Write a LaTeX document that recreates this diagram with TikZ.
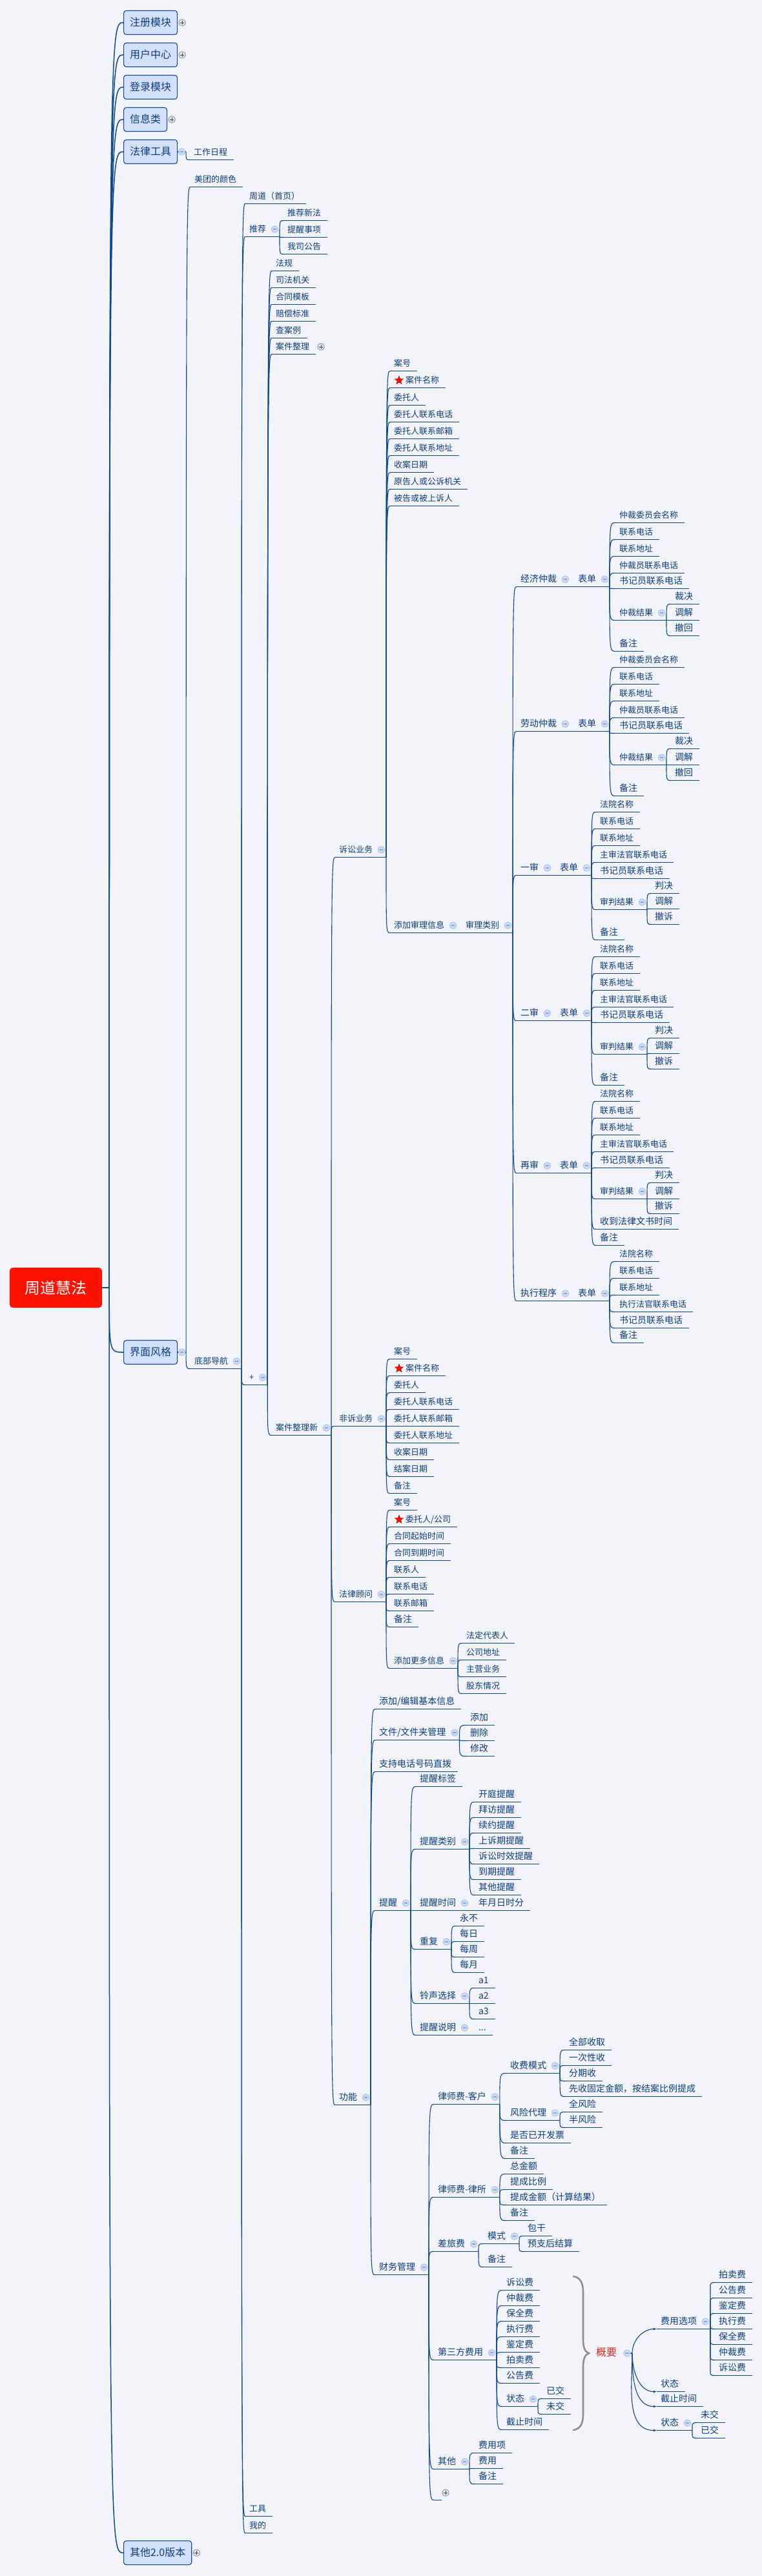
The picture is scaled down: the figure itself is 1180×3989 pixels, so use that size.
\documentclass[tikz,border=0pt]{standalone}
\usepackage{fontspec}
\setmainfont{Noto Sans CJK SC}
\usetikzlibrary{shapes.geometric,arrows.meta,calc}
\definecolor{bg}{HTML}{F2F4FA}
\definecolor{ink}{HTML}{0D3D7C}
\definecolor{lin}{HTML}{114889}
\definecolor{boxf}{HTML}{D2E0FB}
\definecolor{boxd}{HTML}{164A8E}
\definecolor{rootc}{HTML}{FF1100}
\definecolor{icf}{HTML}{D0DCF4}
\definecolor{icd}{HTML}{A6BDE6}
\definecolor{icmc}{HTML}{8AA6D6}
\definecolor{pcf}{HTML}{E0E5EE}
\definecolor{pcd}{HTML}{8591A6}
\definecolor{pcp}{HTML}{3A4658}
\definecolor{brc}{HTML}{8E8E8E}
\definecolor{gyc}{HTML}{D42A1E}
\newcommand\fz[1]{\fontsize{#1}{#1}\selectfont}
\tikzset{
 tp/.style={anchor=west, inner sep=0pt, outer sep=0pt, minimum height=23pt, text height=10.5pt, text depth=2.5pt, font=\fz{13}, text=ink},
 s14/.style={font=\fz{14}},
 ulc/.style={draw=lin, line width=1.1pt},
 conn/.style={draw=lin, line width=1.1pt},
 mconn/.style={draw=lin, line width=1.5pt},
 box/.style={anchor=west, draw=boxd, fill=boxf, line width=1.1pt, rounded corners=4pt, minimum height=37pt, inner xsep=9.5pt, inner ysep=0pt, font=\fz{16}, text=ink, text height=13pt, text depth=3pt},
 starn/.style={star, star points=5, star point ratio=2.4, fill=red!92!orange, draw=red!65!black, line width=0.4pt, minimum size=14pt, inner sep=0pt},
}
\newcommand\icMinus[1]{\draw[fill=icf, draw=icd, line width=0.8pt] (#1) circle (5.3pt); \draw[draw=icmc, line width=1.1pt] ([xshift=-2.8pt]#1) -- ([xshift=2.8pt]#1);}
\newcommand\icPlus[1]{\draw[fill=pcf, draw=pcd, line width=0.8pt] (#1) circle (5.3pt); \draw[draw=pcp, line width=1pt] ([xshift=-3pt]#1) -- ([xshift=3pt]#1) ([yshift=-3pt]#1) -- ([yshift=3pt]#1);}
\newcommand\tpN[5]{\node[tp,#1] (#2) at (#3,#4) {\hspace*{6pt}#5\hspace*{10pt}};\draw[ulc] (#2.south west) -- (#2.south east);}
\newcommand\tpI[5]{\node[tp,#1] (#2) at (#3,#4) {\hspace*{6pt}#5\hspace*{21pt}};\draw[ulc] (#2.south west) -- (#2.south east);\coordinate (#2-i) at ([xshift=-7.5pt]#2.east);\icMinus{#2-i}}
\newcommand\lnk[2]{\foreach \c in {#2}{\draw[conn] (#1.south east) .. controls (#1.south east |- \c.south west) .. (\c.south west);}}
\newcommand\lnkB[2]{\foreach \c in {#2}{\draw[conn] (#1) .. controls (#1 |- \c.south west) .. (\c.south west);}}
\newcommand\lnkE[2]{\foreach \c in {#2}{\draw[conn, rounded corners=4pt] (#1.south east) |- (\c.south west);}}
\begin{document}
\begin{tikzpicture}[x=1pt,y=-1pt]
\fill[bg] (0,0) rectangle (1180,3989);
\useasboundingbox (0,0) rectangle (1180,3989);
% root
\node[fill=rootc, rounded corners=5pt, minimum width=143pt, minimum height=62pt, inner sep=0pt, text=white, font=\fz{24}] (root) at (86.5,1994) {周道慧法};
\coordinate (rs) at ([xshift=11pt]root.east);
% level 1 boxes
\node[box] (reg) at (191,35) {注册模块};
\node[box] (uc) at (191,85) {用户中心};
\node[box] (login) at (191,135) {登录模块};
\node[box] (info) at (191,185) {信息类};
\node[box] (law) at (191,235) {法律工具};
\node[box] (ui) at (191,2094) {界面风格};
\node[box] (v2) at (191,3953) {其他2.0版本};
\draw[mconn] (root.east) -- (rs);
\foreach \c in {reg,uc,login,info,law,ui,v2}{\draw[mconn] (rs) .. controls (rs |- \c.west) .. (\c.west);}
\coordinate (law-o) at ([xshift=13pt]law.east); \draw[conn] (law.east) -- (law-o);
\coordinate (ui-o) at ([xshift=13pt]ui.east); \draw[conn] (ui.east) -- (ui-o);
\coordinate (reg-i) at ([xshift=7pt]reg.east); \icPlus{reg-i}
\coordinate (uc-i) at ([xshift=7pt]uc.east); \icPlus{uc-i}
\coordinate (info-i) at ([xshift=7pt]info.east); \icPlus{info-i}
\coordinate (v2-i) at ([xshift=7pt]v2.east); \icPlus{v2-i}
\coordinate (law-i) at ([xshift=6.5pt]law.east); \icMinus{law-i}
\coordinate (ui-i) at ([xshift=6.5pt]ui.east); \icMinus{ui-i}
% level 2
\tpN{}{ww}{294}{236}{工作日程}
\tpN{}{mt}{295}{278}{美团的颜色}
\tpI{}{db}{295}{2108}{底部导航}
\lnkB{law-o}{ww}
\lnkB{ui-o}{mt,db}
% bottom navigation children
\tpN{}{zd}{380}{304}{周道（首页）}
\tpI{}{tj}{380}{355}{推荐}
\tpI{}{pl}{380}{2133}{+}
\tpN{}{gj}{380}{3885}{工具}
\tpN{}{wd}{380}{3911}{我的}
\lnk{db}{zd,tj,pl,gj,wd}
\tpN{}{tj1}{439}{330}{推荐新法}
\tpN{}{tj2}{439}{356}{提醒事项}
\tpN{}{tj3}{439}{382}{我司公告}
\lnk{tj}{tj1,tj2,tj3}
\tpN{}{fg}{421}{408}{法规}
\tpN{}{sfjg}{421}{434}{司法机关}
\tpN{}{htmb}{421}{460}{合同模板}
\tpN{}{pcbz}{421}{486}{赔偿标准}
\tpN{}{cal}{421}{512}{查案例}
\tpN{}{ajzl}{421}{537}{案件整理}
\coordinate (ajzl-i) at ([xshift=8pt]ajzl.east); \icPlus{ajzl-i}
\tpI{}{ajx}{421}{2211}{案件整理新}
\lnk{pl}{fg,sfjg,htmb,pcbz,cal,ajzl,ajx}
\tpI{}{ssyw}{519}{1316}{诉讼业务}
\tpI{}{fsyw}{519}{2197}{非诉业务}
\tpI{}{flgw}{519}{2469}{法律顾问}
\tpI{s14}{gn}{519}{3248}{功能}
\lnk{ajx}{ssyw,fsyw,flgw,gn}
% litigation
\tpN{}{a1}{604}{563}{案号}
\tpN{}{a2}{604}{589}{\hspace*{18pt}案件名称}
\node[starn] (st1) at ([xshift=14pt]a2.west) {};
\tpN{}{a3}{604}{616}{委托人}
\tpN{}{a4}{604}{642}{委托人联系电话}
\tpN{}{a5}{604}{668}{委托人联系邮箱}
\tpN{}{a6}{604}{694}{委托人联系地址}
\tpN{}{a7}{604}{720}{收案日期}
\tpN{}{a8}{604}{746}{原告人或公诉机关}
\tpN{}{a9}{604}{772}{被告或被上诉人}
\tpI{}{tjsl}{604}{1433}{添加审理信息}
\lnk{ssyw}{a1,a2,a3,a4,a5,a6,a7,a8,a9,tjsl}
\tpI{}{sllb}{715}{1433}{审理类别}
\lnk{tjsl}{sllb}
\tpI{s14}{jj}{800}{897}{经济仲裁}
\tpI{s14}{ld}{800}{1121}{劳动仲裁}
\tpI{s14}{ys}{800}{1344}{一审}
\tpI{s14}{es}{800}{1569}{二审}
\tpI{s14}{zs}{800}{1805}{再审}
\tpI{s14}{zx}{800}{2003}{执行程序}
\lnk{sllb}{jj,ld,ys,es,zs,zx}
% economic arbitration
\tpI{s14}{jjb}{889}{897}{表单}
\lnk{jj}{jjb}
\tpN{}{j1}{953}{798}{仲裁委员会名称}
\tpN{}{j2}{953}{824}{联系电话}
\tpN{}{j3}{953}{850}{联系地址}
\tpN{}{j4}{953}{876}{仲裁员联系电话}
\tpN{s14}{j5}{953}{900}{书记员联系电话}
\tpI{}{j6}{953}{949}{仲裁结果}
\tpN{s14}{j7}{953}{997}{备注}
\lnk{jjb}{j1,j2,j3,j4,j5,j6,j7}
\tpN{s14}{j61}{1039}{924}{裁决}
\tpN{s14}{j62}{1039}{949}{调解}
\tpN{s14}{j63}{1039}{973}{撤回}
\lnk{j6}{j61,j62,j63}
% labour arbitration
\tpI{s14}{ldb}{889}{1121}{表单}
\lnk{ld}{ldb}
\tpN{}{l1}{953}{1022}{仲裁委员会名称}
\tpN{}{l2}{953}{1048}{联系电话}
\tpN{}{l3}{953}{1074}{联系地址}
\tpN{}{l4}{953}{1100}{仲裁员联系电话}
\tpN{s14}{l5}{953}{1124}{书记员联系电话}
\tpI{}{l6}{953}{1173}{仲裁结果}
\tpN{s14}{l7}{953}{1221}{备注}
\lnk{ldb}{l1,l2,l3,l4,l5,l6,l7}
\tpN{s14}{l61}{1039}{1148}{裁决}
\tpN{s14}{l62}{1039}{1173}{调解}
\tpN{s14}{l63}{1039}{1197}{撤回}
\lnk{l6}{l61,l62,l63}
% first instance
\tpI{s14}{ysb}{861}{1344}{表单}
\lnk{ys}{ysb}
\tpN{}{y1}{923}{1246}{法院名称}
\tpN{}{y2}{923}{1272}{联系电话}
\tpN{}{y3}{923}{1298}{联系地址}
\tpN{}{y4}{923}{1324}{主审法官联系电话}
\tpN{s14}{y5}{923}{1349}{书记员联系电话}
\tpI{}{y6}{923}{1397}{审判结果}
\tpN{s14}{y7}{923}{1444}{备注}
\lnk{ysb}{y1,y2,y3,y4,y5,y6,y7}
\tpN{s14}{y61}{1008}{1372}{判决}
\tpN{s14}{y62}{1008}{1396}{调解}
\tpN{s14}{y63}{1008}{1420}{撤诉}
\lnk{y6}{y61,y62,y63}
% second instance
\tpI{s14}{esb}{861}{1569}{表单}
\lnk{es}{esb}
\tpN{}{e1}{923}{1470}{法院名称}
\tpN{}{e2}{923}{1496}{联系电话}
\tpN{}{e3}{923}{1522}{联系地址}
\tpN{}{e4}{923}{1548}{主审法官联系电话}
\tpN{s14}{e5}{923}{1572}{书记员联系电话}
\tpI{}{e6}{923}{1621}{审判结果}
\tpN{s14}{e7}{923}{1669}{备注}
\lnk{esb}{e1,e2,e3,e4,e5,e6,e7}
\tpN{s14}{e61}{1008}{1596}{判决}
\tpN{s14}{e62}{1008}{1620}{调解}
\tpN{s14}{e63}{1008}{1644}{撤诉}
\lnk{e6}{e61,e62,e63}
% retrial
\tpI{s14}{zsb}{861}{1805}{表单}
\lnk{zs}{zsb}
\tpN{}{z1}{923}{1694}{法院名称}
\tpN{}{z2}{923}{1720}{联系电话}
\tpN{}{z3}{923}{1746}{联系地址}
\tpN{}{z4}{923}{1772}{主审法官联系电话}
\tpN{s14}{z5}{923}{1797}{书记员联系电话}
\tpI{}{z6}{923}{1845}{审判结果}
\tpN{s14}{z7}{923}{1892}{收到法律文书时间}
\tpN{s14}{z8}{923}{1917}{备注}
\lnk{zsb}{z1,z2,z3,z4,z5,z6,z7,z8}
\tpN{s14}{z61}{1008}{1820}{判决}
\tpN{s14}{z62}{1008}{1845}{调解}
\tpN{s14}{z63}{1008}{1868}{撤诉}
\lnk{z6}{z61,z62,z63}
% enforcement
\tpI{s14}{zxb}{889}{2003}{表单}
\lnk{zx}{zxb}
\tpN{}{x1}{953}{1942}{法院名称}
\tpN{}{x2}{953}{1968}{联系电话}
\tpN{}{x3}{953}{1994}{联系地址}
\tpN{}{x4}{953}{2020}{执行法官联系电话}
\tpN{s14}{x5}{953}{2045}{书记员联系电话}
\tpN{s14}{x6}{953}{2068}{备注}
\lnk{zxb}{x1,x2,x3,x4,x5,x6}
% non-litigation
\tpN{}{f1}{604}{2093}{案号}
\tpN{}{f2}{604}{2119}{\hspace*{18pt}案件名称}
\node[starn] (st2) at ([xshift=14pt]f2.west) {};
\tpN{}{f3}{604}{2145}{委托人}
\tpN{}{f4}{604}{2171}{委托人联系电话}
\tpN{}{f5}{604}{2197}{委托人联系邮箱}
\tpN{}{f6}{604}{2223}{委托人联系地址}
\tpN{}{f7}{604}{2249}{收案日期}
\tpN{}{f8}{604}{2275}{结案日期}
\tpN{}{f9}{604}{2301}{备注}
\lnk{fsyw}{f1,f2,f3,f4,f5,f6,f7,f8,f9}
% legal adviser
\tpN{}{g1}{604}{2327}{案号}
\tpN{}{g2}{604}{2353}{\hspace*{18pt}委托人/公司}
\node[starn] (st3) at ([xshift=14pt]g2.west) {};
\tpN{}{g3}{604}{2379}{合同起始时间}
\tpN{}{g4}{604}{2405}{合同到期时间}
\tpN{}{g5}{604}{2431}{联系人}
\tpN{}{g6}{604}{2457}{联系电话}
\tpN{}{g7}{604}{2483}{联系邮箱}
\tpN{s14}{g8}{604}{2508}{备注}
\tpI{}{g9}{604}{2572}{添加更多信息}
\lnk{flgw}{g1,g2,g3,g4,g5,g6,g7,g8,g9}
\tpN{}{g91}{716}{2533}{法定代表人}
\tpN{}{g92}{716}{2559}{公司地址}
\tpN{}{g93}{716}{2585}{主营业务}
\tpN{}{g94}{716}{2611}{股东情况}
\lnk{g9}{g91,g92,g93,g94}
% functions
\tpN{s14}{h1}{581}{2635}{添加/编辑基本信息}
\tpI{s14}{h2}{581}{2683}{文件/文件夹管理}
\tpN{s14}{h3}{581}{2732}{支持电话号码直拨}
\tpI{s14}{h4}{581}{2947}{提醒}
\tpI{s14}{h5}{581}{3511}{财务管理}
\lnk{gn}{h1,h2,h3,h4,h5}
\tpN{s14}{h21}{722}{2660}{添加}
\tpN{s14}{h22}{722}{2684}{删除}
\tpN{s14}{h23}{722}{2708}{修改}
\lnk{h2}{h21,h22,h23}
\tpN{s14}{r1}{644}{2755}{提醒标签}
\tpI{s14}{r2}{644}{2852}{提醒类别}
\tpI{s14}{r3}{644}{2947}{提醒时间}
\tpI{s14}{r4}{644}{3007}{重复}
\tpI{s14}{r5}{644}{3091}{铃声选择}
\tpI{s14}{r6}{644}{3140}{提醒说明}
\lnk{h4}{r1,r2,r3,r4,r5,r6}
\tpN{s14}{r21}{735}{2779}{开庭提醒}
\tpN{s14}{r22}{735}{2803}{拜访提醒}
\tpN{s14}{r23}{735}{2827}{续约提醒}
\tpN{s14}{r24}{735}{2851}{上诉期提醒}
\tpN{s14}{r25}{735}{2875}{诉讼时效提醒}
\tpN{s14}{r26}{735}{2899}{到期提醒}
\tpN{s14}{r27}{735}{2923}{其他提醒}
\lnk{r2}{r21,r22,r23,r24,r25,r26,r27}
\tpN{s14}{r31}{735}{2947}{年月日时分}
\lnk{r3}{r31}
\tpN{s14}{r41}{706}{2971}{永不}
\tpN{s14}{r42}{706}{2995}{每日}
\tpN{s14}{r43}{706}{3019}{每周}
\tpN{s14}{r44}{706}{3043}{每月}
\lnk{r4}{r41,r42,r43,r44}
\tpN{s14}{r51}{735}{3067}{a1}
\tpN{s14}{r52}{735}{3091}{a2}
\tpN{s14}{r53}{735}{3115}{a3}
\lnk{r5}{r51,r52,r53}
\tpN{s14}{r61}{735}{3140}{...}
\lnk{r6}{r61}
% finance
\tpI{s14}{c1}{672}{3247}{律师费-客户}
\tpI{s14}{c2}{672}{3391}{律师费-律所}
\tpI{s14}{c3}{672}{3475}{差旅费}
\tpI{s14}{c4}{672}{3643}{第三方费用}
\tpI{s14}{c5}{672}{3812}{其他}
\node[tp] (c6) at (672,3860) {\hspace*{12pt}};
\draw[ulc] (c6.south west) -- (c6.south east);
\coordinate (c6-i) at ([xshift=6pt]c6.east); \icPlus{c6-i}
\lnk{h5}{c1,c2,c3,c4,c5,c6}
\tpI{s14}{c11}{784}{3199}{收费模式}
\tpI{s14}{c12}{784}{3272}{风险代理}
\tpN{s14}{c13}{784}{3307}{是否已开发票}
\tpN{s14}{c14}{784}{3331}{备注}
\lnk{c1}{c11,c12,c13,c14}
\tpN{s14}{c111}{875}{3163}{全部收取}
\tpN{s14}{c112}{875}{3187}{一次性收}
\tpN{s14}{c113}{875}{3211}{分期收}
\tpN{s14}{c114}{875}{3235}{先收固定金额，按结案比例提成}
\lnk{c11}{c111,c112,c113,c114}
\tpN{s14}{c121}{875}{3259}{全风险}
\tpN{s14}{c122}{875}{3283}{半风险}
\lnk{c12}{c121,c122}
\tpN{s14}{c21}{784}{3355}{总金额}
\tpN{s14}{c22}{784}{3379}{提成比例}
\tpN{s14}{c23}{784}{3403}{提成金额（计算结果）}
\tpN{s14}{c24}{784}{3427}{备注}
\lnk{c2}{c21,c22,c23,c24}
\tpI{s14}{c31}{749}{3463}{模式}
\tpN{s14}{c32}{749}{3499}{备注}
\lnk{c3}{c31,c32}
\tpN{s14}{c311}{811}{3451}{包干}
\tpN{s14}{c312}{811}{3475}{预支后结算}
\lnk{c31}{c311,c312}
\tpN{s14}{c41}{778}{3535}{诉讼费}
\tpN{s14}{c42}{778}{3559}{仲裁费}
\tpN{s14}{c43}{778}{3583}{保全费}
\tpN{s14}{c44}{778}{3607}{执行费}
\tpN{s14}{c45}{778}{3631}{鉴定费}
\tpN{s14}{c46}{778}{3655}{拍卖费}
\tpN{s14}{c47}{778}{3679}{公告费}
\tpI{s14}{c48}{778}{3715}{状态}
\tpN{s14}{c49}{778}{3751}{截止时间}
\lnk{c4}{c41,c42,c43,c44,c45,c46,c47,c48,c49}
\tpN{s14}{c481}{840}{3703}{已交}
\tpN{s14}{c482}{840}{3727}{未交}
\lnk{c48}{c481,c482}
\tpN{s14}{c51}{735}{3787}{费用项}
\tpN{s14}{c52}{735}{3811}{费用}
\tpN{s14}{c53}{735}{3835}{备注}
\lnk{c5}{c51,c52,c53}
% summary brace
\draw[brc, line width=2.6pt, line cap=round] (888,3525) .. controls (899,3527) and (903,3535) .. (903,3550) -- (903,3622) .. controls (903,3636) and (906,3642) .. (912,3644) .. controls (906,3646) and (903,3652) .. (903,3666) -- (903,3738) .. controls (903,3753) and (899,3761) .. (888,3763);
\node[tp, font=\fz{16}, text=gyc] (gy) at (917,3644) {\hspace*{6pt}概要\hspace*{6pt}};
\coordinate (gy-i) at ([xshift=10pt]gy.east);
\coordinate (gy-o) at ([xshift=18pt]gy.east);
\draw[conn] (gy-i) -- (gy-o);
\icMinus{gy-i}
\tpI{s14}{k1}{1017}{3595}{费用选项}
\tpN{s14}{k2}{1017}{3692}{状态}
\tpN{s14}{k3}{1017}{3715}{截止时间}
\tpI{s14}{k4}{1017}{3752}{状态}
\foreach \c/\o in {k1/90,k2/-90,k3/-90,k4/-90}{\draw[conn,-{Latex[length=5pt,width=4pt]}] (gy-o) to[out=\o,in=180] (\c.south west);}
\tpN{s14}{k11}{1107}{3523}{拍卖费}
\tpN{s14}{k12}{1107}{3547}{公告费}
\tpN{s14}{k13}{1107}{3571}{鉴定费}
\tpN{s14}{k14}{1107}{3595}{执行费}
\tpN{s14}{k15}{1107}{3619}{保全费}
\tpN{s14}{k16}{1107}{3643}{仲裁费}
\tpN{s14}{k17}{1107}{3667}{诉讼费}
\lnkE{k1}{k11,k12,k13,k14,k15,k16,k17}
\tpN{s14}{k41}{1079}{3740}{未交}
\tpN{s14}{k42}{1079}{3764}{已交}
\lnkE{k4}{k41,k42}
\end{tikzpicture}
\end{document}
